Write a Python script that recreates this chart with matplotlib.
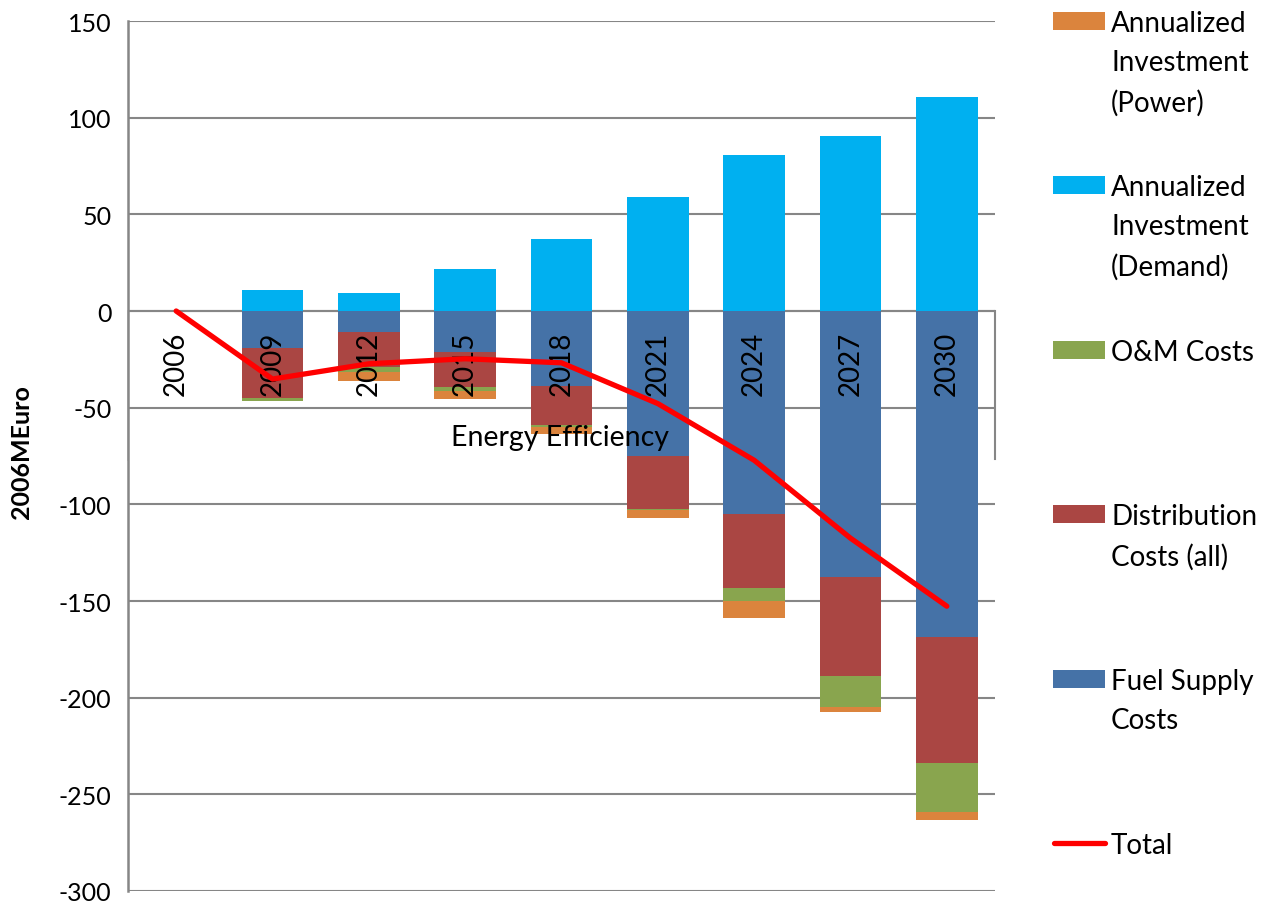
import numpy as np
import matplotlib
matplotlib.use("Agg")
import matplotlib.pyplot as plt
from matplotlib.patches import Rectangle
from matplotlib.lines import Line2D

plt.rcParams["font.family"] = ["Lato", "DejaVu Sans"]
plt.rcParams["axes.unicode_minus"] = False

# cost components per model year (2006 MEuro)
years = ["2006", "2009", "2012", "2015", "2018", "2021", "2024", "2027", "2030"]
invest_demand = [0, 10.8, 9.3, 21.5, 37.0, 58.8, 80.9, 90.7, 110.8]
fuel_supply = [0, -19.0, -10.7, -21.1, -39.0, -74.9, -104.8, -137.8, -168.7]
distribution = [0, -26.0, -18.3, -18.2, -20.1, -27.3, -38.7, -51.0, -65.3]
om_costs = [0, -1.7, -2.6, -2.1, -0.9, -0.7, -6.7, -16.0, -25.3]
invest_power = [0, 0, -4.8, -4.0, -3.4, -4.0, -8.6, -2.4, -3.9]
total = [0, -35.2, -27.3, -24.7, -26.8, -47.9, -77.2, -117.5, -152.7]

c_power = "#DB843D"
c_demand = "#00B0F0"
c_om = "#89A54E"
c_dist = "#AA4643"
c_fuel = "#4572A7"
c_total = "#FF0000"
grid_c = "#868686"

fig = plt.figure(figsize=(12.66, 9.04), dpi=100)
ax = fig.add_axes([128 / 1266, 12 / 904, 867 / 1266, 870 / 904])

x = np.arange(len(years))
w = 0.64
bkw = dict(edgecolor="none", linewidth=0, zorder=3)

ax.bar(x, invest_demand, w, color=c_demand, **bkw)
neg = np.zeros(len(years))
for vals, col in [(fuel_supply, c_fuel), (distribution, c_dist),
                  (om_costs, c_om), (invest_power, c_power)]:
    ax.bar(x, vals, w, bottom=neg, color=col, **bkw)
    neg = neg + np.array(vals)

ax.plot(x, total, color=c_total, lw=3.8, solid_capstyle="round",
        solid_joinstyle="round", zorder=6)

ax.set_xlim(-0.5, len(years) - 0.5)
ax.set_ylim(-300, 150)
ax.set_yticks(np.arange(-300, 151, 50))
ax.yaxis.grid(True, color=grid_c, lw=1.5)
ax.set_axisbelow(True)
ax.axhline(0, color=grid_c, lw=1.5, zorder=2)
ax.set_xticks([])
ax.tick_params(axis="y", length=0, pad=12, labelsize=18)
for s in ["top", "right", "bottom"]:
    ax.spines[s].set_visible(False)
ax.spines["left"].set_color(grid_c)
ax.spines["left"].set_linewidth(1.8)

# category labels sit inside the plot below the zero line
for i, yr in enumerate(years):
    ax.text(i, -10.3, yr, rotation=90, ha="center", va="top",
            fontsize=20, zorder=5)
ax.text(3.98, -65, "Energy Efficiency", ha="center", va="center",
        fontsize=20.5, zorder=5)
ax.plot([-0.5, -0.5], [0, -77], color="#D0D0D0", lw=1.2, clip_on=False, zorder=2)
ax.plot([8.5, 8.5], [0, -76.5], color=grid_c, lw=1.5, clip_on=False, zorder=2)

fig.text(22 / 1266, 1 - 452 / 904, "2006MEuro", rotation=90, ha="center",
         va="center", fontsize=18, fontweight="bold")

# legend entries laid out down the right-hand side
entries = [
    ("Annualized\nInvestment\n(Power)", c_power, "patch"),
    ("Annualized\nInvestment\n(Demand)", c_demand, "patch"),
    ("O&M Costs", c_om, "patch"),
    ("Distribution\nCosts (all)", c_dist, "patch"),
    ("Fuel Supply\nCosts", c_fuel, "patch"),
    ("Total", c_total, "line"),
]
W, H = 1266, 904
for k, (label, col, kind) in enumerate(entries):
    yc = 22 + k * 164.4
    if kind == "patch":
        fig.add_artist(Rectangle((1053 / W, 1 - (yc + 9) / H), 52 / W, 18 / H,
                                 facecolor=col, edgecolor="none",
                                 transform=fig.transFigure))
    else:
        fig.add_artist(Line2D([1054 / W, 1105 / W], [1 - yc / H] * 2, color=col,
                              lw=3.8, solid_capstyle="round",
                              transform=fig.transFigure))
    fig.text(1111 / W, 1 - (yc - 11) / H, label, ha="left", va="top",
             fontsize=20, linespacing=1.62)

fig.savefig("out.png", dpi=100)
